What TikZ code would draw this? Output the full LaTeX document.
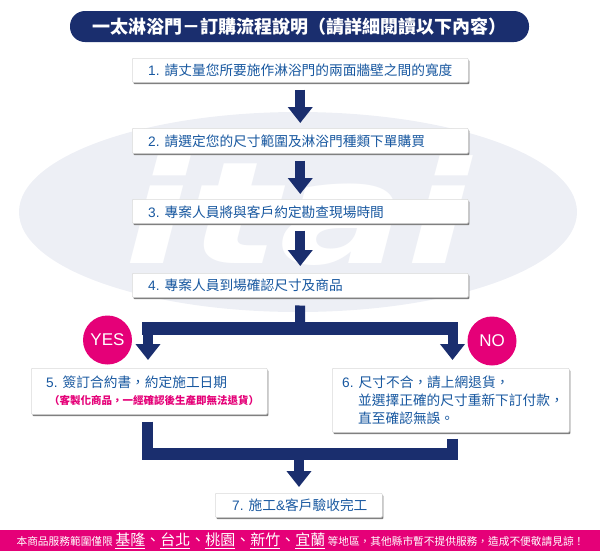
\documentclass[tikz,border=0pt]{standalone}
\usepackage{fontspec}
\setmainfont{Noto Sans CJK TC}
\setsansfont{Liberation Sans}
\newfontfamily\logofont{DejaVu Sans}
\definecolor{flownavy}{RGB}{26, 46, 110}
\definecolor{steptext}{RGB}{24, 88, 160}
\definecolor{alertpink}{RGB}{229, 0, 120}
\definecolor{wmgray}{RGB}{237, 239, 245}
\usetikzlibrary{arrows.meta, shadows}

\tikzset{
  stepbox/.style={draw=black!15, fill=white, line width=0.5pt, rounded corners=1pt, drop shadow={shadow xshift=1.2pt, shadow yshift=-1.8pt, fill=black!50, opacity=1}, anchor=north west, inner sep=0pt},
  steptxt/.style={text=steptext, font=\fontsize{13.7}{18}\selectfont, anchor=west, inner sep=0pt, align=left},
  downarrow/.style={-{Triangle[width=24pt, length=16pt]}, line width=10pt, flownavy},
  flowbar/.style={line width=12pt, flownavy},
  answer/.style={circle, fill=alertpink, text=white, minimum size=49pt, inner sep=0pt, font=\sffamily\fontsize{17}{17}\selectfont},
}

\begin{document}
\begin{tikzpicture}[x=1pt, y=-1pt]
  \useasboundingbox (0, 0) rectangle (600, 558);

  % Watermark
  \fill[wmgray] (298, 212) ellipse [x radius=279, y radius=100];
  \node[text=white, font=\logofont\bfseries\itshape\fontsize{142}{142}\selectfont, inner sep=0pt, xscale=1.33, anchor=base] (logo) at (298, 263) {itai};

  % Title
  \node[fill=flownavy, rounded corners=15pt, minimum width=459pt, minimum height=31pt, inner sep=0pt, text=white, font=\bfseries\fontsize{18}{20}\selectfont] (title) at (299.5, 26.5) {一太淋浴門－訂購流程說明（請詳細閱讀以下內容）};

  % Steps
  \node[stepbox, minimum width=336pt, minimum height=24pt] (s1) at (132, 58) {};
  \node[steptxt] (s1txt) at (148, 70) {\sffamily 1. \rmfamily 請丈量您所要施作淋浴門的兩面牆壁之間的寬度};
  \node[stepbox, minimum width=336pt, minimum height=25pt] (s2) at (132, 128) {};
  \node[steptxt] (s2txt) at (148, 141) {\sffamily 2. \rmfamily 請選定您的尺寸範圍及淋浴門種類下單購買};
  \node[stepbox, minimum width=336pt, minimum height=24pt] (s3) at (132, 199) {};
  \node[steptxt] (s3txt) at (148, 212) {\sffamily 3. \rmfamily 專案人員將與客戶約定勘查現場時間};
  \node[stepbox, minimum width=336pt, minimum height=24pt] (s4) at (132, 273) {};
  \node[steptxt] (s4txt) at (148, 285) {\sffamily 4. \rmfamily 專案人員到場確認尺寸及商品};

  \draw[downarrow, shorten <=7pt, shorten >=5pt] (s1.south) -- (s2.north);
  \draw[downarrow, shorten <=7pt, shorten >=5pt] (s2.south) -- (s3.north);
  \draw[downarrow, shorten <=7pt, shorten >=7pt] (s3.south) -- (s4.north);

  % Outcome boxes
  \node[stepbox, minimum width=236pt, minimum height=46pt] (s5) at (31, 368) {};
  \node[steptxt] (s5txt) at (46, 382) {\sffamily 5. \rmfamily 簽訂合約書，約定施工日期};
  \node[steptxt, text=alertpink, font=\bfseries\fontsize{10.5}{14}\selectfont] (s5note) at (49, 400) {（客製化商品，一經確認後生產即無法退貨）};
  \node[stepbox, minimum width=237pt, minimum height=64pt] (s6) at (332, 368) {};
  \node[steptxt] (s6txt) at (342, 400) {\sffamily 6. \rmfamily 尺寸不合，請上網退貨，\\\hspace*{16pt}並選擇正確的尺寸重新下訂付款，\\\hspace*{16pt}直至確認無誤。};
  \node[stepbox, minimum width=167pt, minimum height=24pt] (s7) at (215, 493) {};
  \node[steptxt] (s7txt) at (232, 505) {\sffamily 7. \rmfamily 施工\sffamily\&\rmfamily 客戶驗收完工};

  % Split after step 4
  \coordinate (splitL) at (148, 328.5);
  \coordinate (splitR) at (452.5, 328.5);
  \coordinate (splitM) at (300, 328.5);
  \draw[line width=10pt, flownavy, shorten <=8pt] (s4.south) -- (splitM);
  \draw[flowbar, line width=13pt] ([xshift=-6pt]splitL) -- ([xshift=5.5pt]splitR);
  \draw[downarrow, shorten >=8pt] (splitL) -- (splitL |- s5.north);
  \draw[downarrow, shorten >=8pt] (splitR) -- (splitR |- s5.north);
  \node[answer] (yes) at (107.5, 340) {YES};
  \node[answer] (no) at (492, 341) {NO};

  % Merge into step 7
  \coordinate (mergeL) at (147.5, 454);
  \coordinate (mergeR) at (452.5, 454);
  \coordinate (mergeM) at (299, 454);
  \draw[line width=11pt, flownavy, shorten <=7pt] (mergeL |- s5.south) -- ([yshift=6pt]mergeL);
  \draw[line width=11pt, flownavy, shorten <=6pt] (mergeR |- s6.south) -- ([yshift=6pt]mergeR);
  \draw[flowbar] ([xshift=-5.5pt]mergeL) -- ([xshift=5.5pt]mergeR);
  \draw[downarrow, shorten >=6pt] (mergeM) -- (mergeM |- s7.north);

  % Service area notice
  \fill[alertpink] (0, 530) rectangle (600, 551);
  \node[text=white, inner sep=0pt, font=\fontsize{10.7}{12}\selectfont] (notice) at (300.5, 540.5) {本商品服務範圍僅限 {\fontsize{15}{15}\selectfont\underline{基隆}、\underline{台北}、\underline{桃園}、\underline{新竹}、\underline{宜蘭}} 等地區，其他縣市暫不提供服務，造成不便敬請見諒！};
\end{tikzpicture}
\end{document}
